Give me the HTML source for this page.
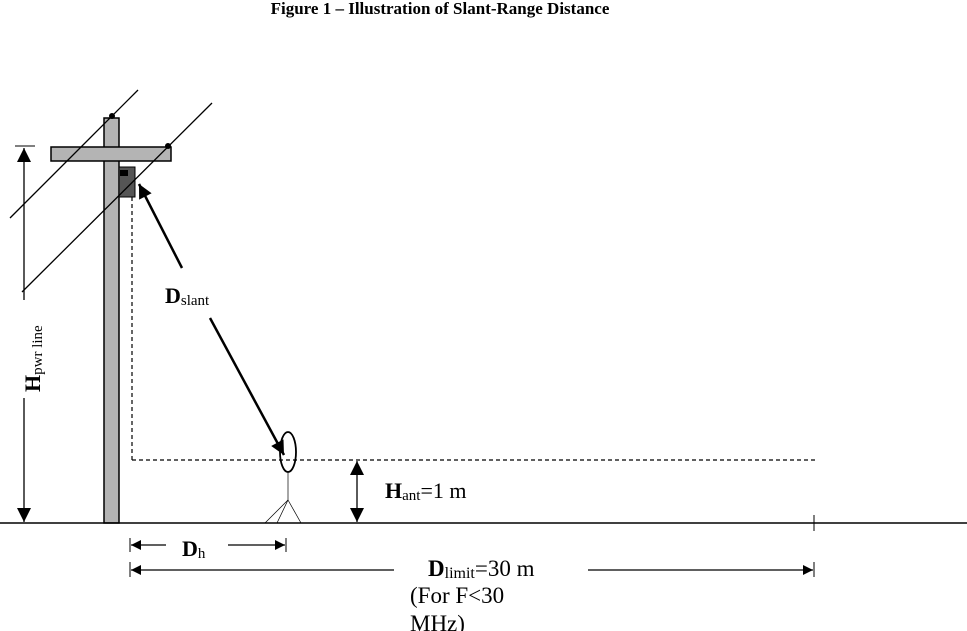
<!DOCTYPE html>
<html><head><meta charset="utf-8"><style>
html,body{margin:0;padding:0;background:#fff;}
svg{display:block;font-family:"Liberation Serif",serif;}
</style></head><body>
<svg width="967" height="631" viewBox="0 0 967 631">
<defs>
<marker id="ah" viewBox="0 0 10 10" refX="10" refY="5" markerWidth="10" markerHeight="10" markerUnits="userSpaceOnUse" orient="auto-start-reverse"><path d="M0,0 L10,5 L0,10 z" fill="#000"/></marker>
<marker id="ahb" viewBox="0 0 10 10" refX="10" refY="5" markerWidth="16" markerHeight="14" markerUnits="userSpaceOnUse" orient="auto-start-reverse"><path d="M0,0 L10,5 L0,10 z" fill="#000"/></marker>
</defs>
<text x="440" y="14" text-anchor="middle" font-weight="bold" font-size="17">Figure 1 – Illustration of Slant-Range Distance</text>

<g>
<rect x="104" y="118" width="15" height="405" fill="#b4b4b4" stroke="#000" stroke-width="1.5"/>
<rect x="51" y="147" width="120" height="14" fill="#b4b4b4" stroke="#000" stroke-width="1.5"/>
<rect x="119" y="167" width="16" height="30" fill="#555" stroke="#000" stroke-width="1"/>
<rect x="120" y="170" width="8" height="6" fill="#000"/>
</g>
<line x1="10" y1="218" x2="138" y2="90" stroke="#000" stroke-width="1.3"/>
<line x1="22" y1="292" x2="212" y2="103" stroke="#000" stroke-width="1.3"/>
<circle cx="112" cy="116" r="3" fill="#000"/>
<circle cx="168" cy="146" r="3" fill="#000"/>

<line x1="132" y1="197" x2="132" y2="460" stroke="#000" stroke-width="1.2" stroke-dasharray="4,3"/>
<line x1="132" y1="460" x2="818" y2="460" stroke="#000" stroke-width="1.2" stroke-dasharray="4,3"/>
<line x1="0" y1="523" x2="967" y2="523" stroke="#000" stroke-width="1.5"/>
<line x1="814" y1="515" x2="814" y2="531" stroke="#000"/>

<line x1="15" y1="146" x2="35" y2="146" stroke="#000"/>
<line x1="24" y1="300" x2="24" y2="148" stroke="#000" stroke-width="1.3" marker-end="url(#ahb)"/>
<line x1="24" y1="398" x2="24" y2="522" stroke="#000" stroke-width="1.3" marker-end="url(#ahb)"/>
<text transform="translate(40,392) rotate(-90)" font-size="22"><tspan font-weight="bold">H</tspan><tspan font-size="15" dy="2">pwr  line</tspan></text>

<line x1="182" y1="268" x2="139" y2="184" stroke="#000" stroke-width="2.5" marker-end="url(#ahb)"/>
<line x1="210" y1="318" x2="284" y2="455" stroke="#000" stroke-width="2.5" marker-end="url(#ahb)"/>
<text x="165" y="303" font-size="22"><tspan font-weight="bold">D</tspan><tspan font-size="15" dy="2">slant</tspan></text>

<g>
<ellipse cx="288" cy="452" rx="8" ry="20" fill="none" stroke="#000" stroke-width="1.8"/>
<line x1="288" y1="472" x2="288" y2="500" stroke="#000" stroke-width="0.7"/>
<line x1="288" y1="500" x2="265" y2="523" stroke="#000" stroke-width="0.7"/>
<line x1="288" y1="500" x2="277" y2="523" stroke="#000" stroke-width="0.7"/>
<line x1="288" y1="500" x2="301" y2="523" stroke="#000" stroke-width="0.7"/>
</g>

<line x1="357" y1="490" x2="357" y2="461" stroke="#000" stroke-width="1.3" marker-end="url(#ahb)"/>
<line x1="357" y1="490" x2="357" y2="522" stroke="#000" stroke-width="1.3" marker-end="url(#ahb)"/>
<text x="385" y="498" font-size="22"><tspan font-weight="bold">H</tspan><tspan font-size="15" dy="2">ant</tspan><tspan dy="-2">=1 m</tspan></text>

<line x1="130" y1="538" x2="130" y2="552" stroke="#000"/>
<line x1="166" y1="545" x2="131" y2="545" stroke="#000" stroke-width="1.2" marker-end="url(#ah)"/>
<text x="182" y="556" font-size="22"><tspan font-weight="bold">D</tspan><tspan font-size="15" dy="2">h</tspan></text>
<line x1="228" y1="545" x2="285" y2="545" stroke="#000" stroke-width="1.2" marker-end="url(#ah)"/>
<line x1="286" y1="538" x2="286" y2="552" stroke="#000"/>

<line x1="130" y1="562" x2="130" y2="577" stroke="#000"/>
<line x1="394" y1="570" x2="131" y2="570" stroke="#000" stroke-width="1.2" marker-end="url(#ah)"/>
<text x="428" y="576" font-size="23"><tspan font-weight="bold">D</tspan><tspan font-size="16" dy="2">limit</tspan><tspan dy="-2">=30 m</tspan></text>
<line x1="588" y1="570" x2="813" y2="570" stroke="#000" stroke-width="1.2" marker-end="url(#ah)"/>
<line x1="814" y1="562" x2="814" y2="577" stroke="#000"/>
<text x="410" y="603" font-size="23">(For F&lt;30</text>
<text x="410" y="631" font-size="23">MHz)</text>
</svg>
</body></html>
